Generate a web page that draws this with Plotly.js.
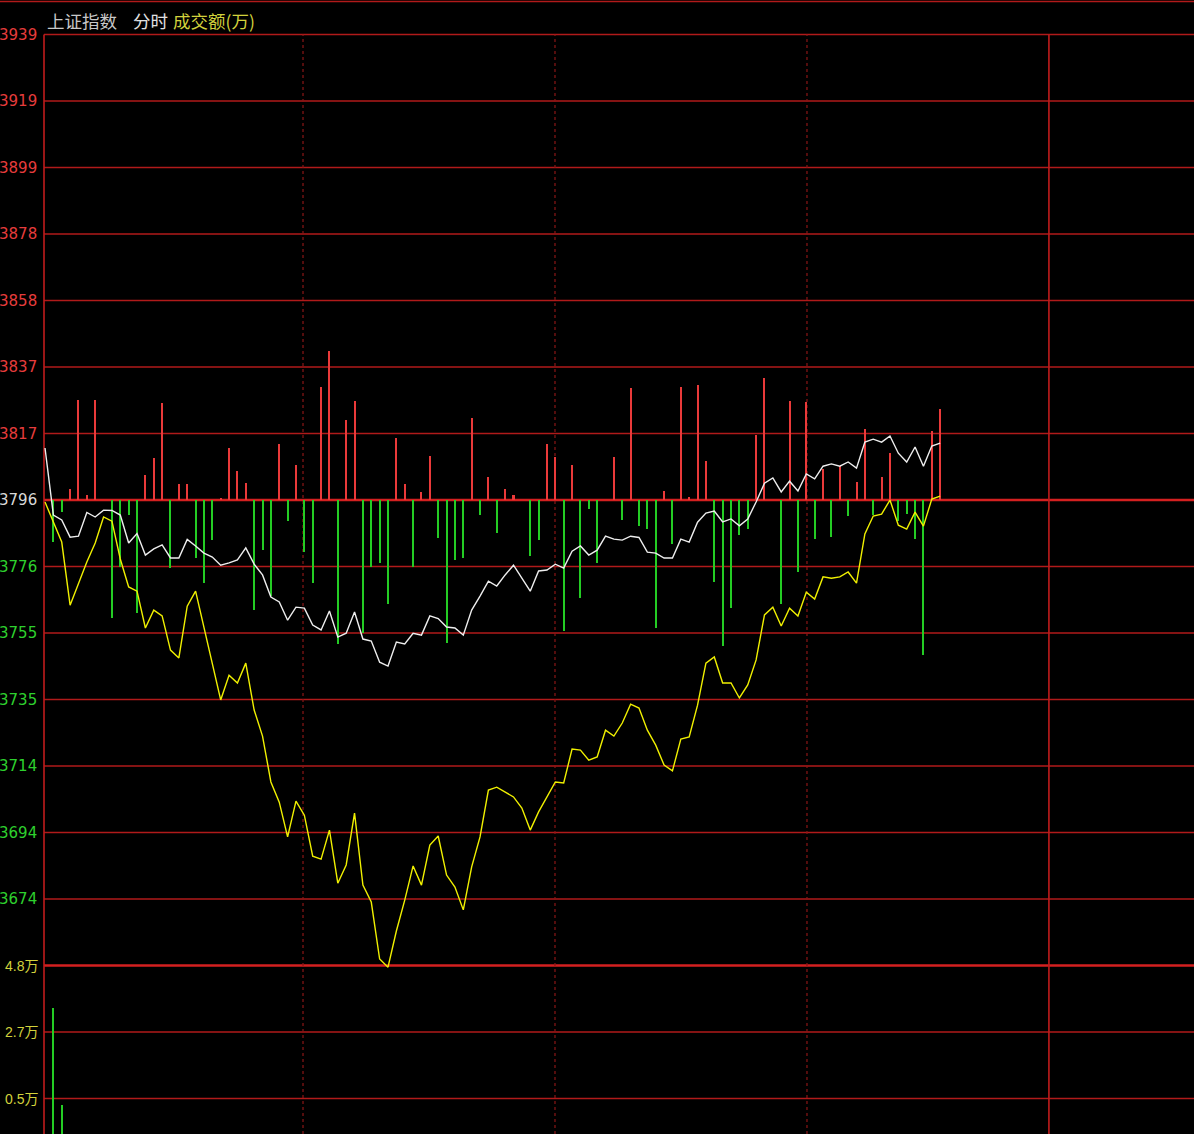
<!DOCTYPE html>
<html><head><meta charset="utf-8">
<script src="https://cdn.plot.ly/plotly-3.0.1.min.js"></script>
<style>html,body{margin:0;padding:0;background:#000;overflow:hidden}</style>
</head><body><div id="chart" style="width:1194px;height:1134px"></div>
<script>
// ---- data ----
const prevClose = 3796.42;
const gridStep = 20.43;
const priceLabels = ['3939','3919','3899','3878','3858','3837','3817','3796','3776','3755','3735','3714','3694','3674'];
const priceLabelSteps = [7,6,5,4,3,2,1,0,-1,-2,-3,-4,-5,-6];
const volLabels = ['4.8万','2.7万','0.5万'];
const volLabelSteps = [-7,-8,-9];

// white line: index price
const price = [3812.4,3791.8,3790.3,3785.0,3785.3,3792.6,3791.2,3793.3,3793.2,3791.8,
 3783.2,3786.1,3779.5,3781.4,3782.6,3778.6,3778.6,3784.3,3782.3,3780.1,
 3778.9,3776.4,3777.1,3778.0,3781.7,3776.7,3773.4,3766.6,3765.1,3759.5,
 3763.5,3763.2,3758.0,3756.5,3762.3,3754.3,3755.5,3762.0,3753.7,3753.1,
 3746.6,3745.4,3752.8,3752.2,3755.5,3754.9,3760.8,3760.0,3757.4,3757.1,
 3754.9,3762.6,3766.9,3771.5,3770.0,3773.4,3776.4,3772.4,3768.4,3774.6,
 3774.9,3776.7,3775.5,3780.7,3782.3,3779.5,3781.0,3785.3,3784.4,3784.1,
 3785.3,3784.9,3780.4,3780.1,3778.6,3778.6,3784.4,3783.5,3789.6,3792.4,
 3793.0,3789.7,3790.6,3788.5,3790.6,3795.8,3801.6,3803.2,3798.9,3802.2,
 3799.2,3804.4,3802.9,3806.8,3807.5,3806.8,3808.1,3806.2,3814.2,3815.1,
 3814.2,3816.1,3810.8,3808.1,3812.7,3806.8,3813.0,3813.9];

// yellow line
const leading = [3795.8,3789.6,3783.5,3764.1,3770.9,3777.4,3783.2,3791.2,3789.9,3778.3,
 3769.7,3768.4,3757.1,3762.6,3760.8,3750.3,3747.9,3763.8,3768.4,3757.1,
 3745.7,3735.0,3742.6,3740.2,3746.3,3731.9,3723.9,3709.8,3703.6,3692.9,
 3703.9,3699.6,3687.0,3686.1,3695.0,3678.7,3684.3,3700.2,3678.1,3672.9,
 3655.4,3652.9,3664.0,3673.5,3684.0,3678.1,3690.4,3693.2,3681.2,3677.5,
 3670.5,3683.7,3692.9,3707.3,3708.2,3706.7,3705.2,3701.8,3695.0,3700.6,
 3705.2,3709.8,3709.5,3719.9,3719.6,3716.5,3717.5,3725.7,3723.9,3727.9,
 3733.7,3732.5,3725.7,3721.1,3715.0,3713.2,3723.0,3723.6,3733.4,3746.3,
 3748.2,3740.2,3740.2,3735.6,3739.6,3747.3,3761.1,3763.5,3757.7,3763.2,
 3760.8,3768.1,3766.0,3772.8,3772.4,3772.8,3774.3,3770.9,3786.0,3791.5,
 3792.1,3796.4,3788.7,3787.5,3792.7,3788.4,3796.7,3797.6];

// red / green bars (points from previous close)
const redGreen = [0,-12.9,-3.7,3.4,30.7,1.5,30.7,0,-36.3,-20.6,
 -4.6,-34.7,7.7,12.9,29.8,-20.9,4.9,4.9,-17.8,-25.5,
 -12.3,0.6,16.0,8.9,5.2,-33.8,-15.4,-29.5,17.2,-6.5,
 10.8,-16.0,-25.5,34.7,45.8,-44.2,24.6,30.4,-40.9,-20.6,
 -19.4,-32.0,19.0,4.9,-20.6,2.5,13.5,-11.7,-43.9,-18.4,
 -17.8,25.2,-4.6,7.1,-10.1,3.4,1.5,0,-17.2,-12.3,
 17.2,13.2,-40.2,10.8,-30.1,-2.8,-19.4,0,13.2,-6.1,
 34.4,-8.0,-8.9,-39.3,2.8,-13.5,34.7,0.9,35.3,12.0,
 -25.2,-44.9,-33.2,-10.8,-8.9,20.0,37.5,0,-32.0,30.4,
 -22.1,30.1,-12.0,9.5,-11.4,10.4,-4.9,5.5,21.8,-4.6,
 7.1,14.4,-6.5,-4.3,-12.0,-47.6,21.2,28.0];

// volume (万), only the first bars reach into view
const volumeX = [1,2];
const volume = [3.44,0.31];

const sessionDividers = [30.84, 60.96, 91.08];
const sessionEnd = 120;

// ---- layout helpers ----
const N = price.length;
const xs = Array.from({length:N}, (_, i) => i);
const pxPerX = 8.366, x0px = 45, W = 1194, H = 1134;
const xRange = [(0 - x0px)/pxPerX, (W - x0px)/pxPerX];
const ptsPerPx = gridStep/66.5;
const yRange = [prevClose - (H-500)*ptsPerPx, prevClose + 500*ptsPerPx];
const volPxPerUnit = 133/4.3;
const volRange = [4.8 - (H-966)/volPxPerUnit, 4.8 + 966/volPxPerUnit];
const xLeft = (44 - x0px)/pxPerX;
const topGrid = prevClose + 7*gridStep;

const RED = '#ea3a3a', GREEN = '#24cc24', GRID = '#b01a1a';

const shapes = [];
for (let k = 7; k >= -9; k--) {
  const strong = (k === 0 || k === -7);
  shapes.push({type:'line', xref:'x', yref:'y', x0:xLeft, x1:xRange[1], y0:prevClose+k*gridStep, y1:prevClose+k*gridStep,
    line:{color: strong ? '#d42020' : GRID, width: strong ? 2.4 : 1.4}, layer:'below'});
}
shapes.push({type:'line', xref:'paper', yref:'paper', x0:0, x1:1, y0:1-1.5/H, y1:1-1.5/H, line:{color:GRID, width:1.4}});
shapes.push({type:'line', xref:'x', yref:'y', x0:xLeft, x1:xLeft, y0:yRange[0], y1:topGrid, line:{color:'#c01c1c', width:1.6}, layer:'below'});
shapes.push({type:'line', xref:'x', yref:'y', x0:sessionEnd, x1:sessionEnd, y0:yRange[0], y1:topGrid, line:{color:'#c01c1c', width:1.6}, layer:'below'});
sessionDividers.forEach(d => shapes.push({type:'line', xref:'x', yref:'y', x0:d, x1:d, y0:yRange[0], y1:topGrid,
  line:{color:'#8a1616', width:1.2, dash:'dot'}, layer:'below'}));

const annotations = [];
const lblFont = 'DejaVu Sans, Liberation Sans, sans-serif';
priceLabels.forEach((t, j) => {
  const k = priceLabelSteps[j];
  const c = k > 0 ? '#e63c3c' : (k === 0 ? '#d8d8d8' : '#2ed02e');
  annotations.push({xref:'paper', yref:'y', x:39/W, y:prevClose + k*gridStep, xanchor:'right', yanchor:'middle',
    text:t, showarrow:false, font:{family:lblFont, size:15, color:c}});
});
volLabels.forEach((t, j) => {
  annotations.push({xref:'paper', yref:'y', x:40/W, y:prevClose + volLabelSteps[j]*gridStep, xanchor:'right', yanchor:'middle',
    text:t, showarrow:false, font:{family:'Liberation Sans, Noto Sans CJK SC, sans-serif', size:14, color:'#d2d23c'}});
});
const hdrFont = 'Noto Sans CJK SC, sans-serif';
annotations.push({xref:'paper', yref:'paper', x:45/W, y:1-20/H, xanchor:'left', yanchor:'middle', showarrow:false,
  text:'上证指数', font:{family:hdrFont, size:17.5, color:'#c8c8c8'}});
annotations.push({xref:'paper', yref:'paper', x:131/W, y:1-20/H, xanchor:'left', yanchor:'middle', showarrow:false,
  text:'分时', font:{family:hdrFont, size:17.5, color:'#e0e0e0'}});
annotations.push({xref:'paper', yref:'paper', x:171/W, y:1-20/H, xanchor:'left', yanchor:'middle', showarrow:false,
  text:'成交额(万)', font:{family:hdrFont, size:17.5, color:'#d2d23c'}});

const traces = [
  {type:'bar', x:xs, y:redGreen, base:prevClose, width:0.24,
   marker:{color: redGreen.map(v => v >= 0 ? RED : GREEN), line:{width:0}}},
  {type:'bar', x:volumeX, y:volume.map(v => v - volRange[0]), base:volRange[0], width:0.24, yaxis:'y2',
   marker:{color:GREEN, line:{width:0}}},
  {type:'scatter', mode:'lines', x:xs, y:leading, line:{color:'#f0f000', width:1.4}},
  {type:'scatter', mode:'lines', x:xs, y:price, line:{color:'#eeeeee', width:1.4}}
];

const layout = {
  width:W, height:H, margin:{l:0, r:0, t:0, b:0},
  paper_bgcolor:'#000', plot_bgcolor:'#000', showlegend:false, bargap:0,
  xaxis:{range:xRange, showgrid:false, zeroline:false, showticklabels:false, ticks:''},
  yaxis:{range:yRange, showgrid:false, zeroline:false, showticklabels:false, ticks:''},
  yaxis2:{range:volRange, overlaying:'y', showgrid:false, zeroline:false, showticklabels:false, ticks:''},
  shapes:shapes, annotations:annotations
};
Plotly.newPlot('chart', traces, layout, {staticPlot:true, displayModeBar:false});
</script></body></html>
